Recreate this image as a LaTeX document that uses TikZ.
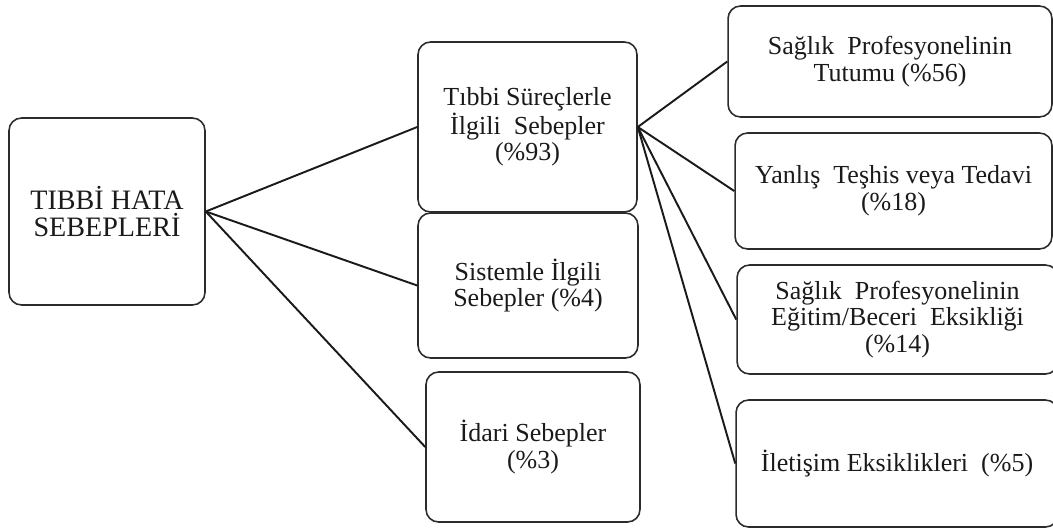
\documentclass[tikz,border=0pt]{standalone}
\usepackage{fontspec}
\setmainfont{Liberation Serif}
\usepackage{xcolor}
\usepackage{tikz}
\definecolor{ink}{HTML}{1A1A1A}
\definecolor{edge}{HTML}{2B2B2B}
\tikzset{
  causebox/.style={draw=edge,fill=white,rounded corners=0.25cm,
                   line width=0.9pt,align=center,inner sep=2pt,
                   font=\fontsize{14.8}{15.2}\selectfont,text=ink},
  link/.style={draw=ink,line width=1.1pt},
}

\begin{document}
\begin{tikzpicture}[x=0.02cm,y=-0.02cm]
  \useasboundingbox (0,0) rectangle (1053,528);
  % Root
  \node[causebox,minimum width=3.92cm,minimum height=3.74cm,
        font=\fontsize{16}{15.2}\selectfont] (root)
    at (107,211.5) {TIBBİ HATA\\SEBEPLERİ};
  % Middle level
  \node[causebox,minimum width=4.38cm,minimum height=3.4cm] (tibbi)
    at (527.5,127) {Tıbbi Süreçlerle\\İlgili\ \ Sebepler\\(\%93)};
  \node[causebox,minimum width=4.4cm,minimum height=2.9cm] (sistem)
    at (528,285.5) {Sistemle İlgili\\Sebepler\ (\%4)};
  \node[causebox,minimum width=4.28cm,minimum height=3.0cm] (idari)
    at (533,447) {İdari Sebepler\\(\%3)};
  % Right level
  \node[causebox,minimum width=6.48cm,minimum height=2.22cm] (tutum)
    at (890,61.5) {Sağlık\ \ Profesyonelinin\\Tutumu (\%56)};
  \node[causebox,minimum width=6.34cm,minimum height=2.32cm] (teshis)
    at (893.5,191) {Yanlış\ \ Teşhis veya Tedavi\\(\%18)};
  \node[causebox,minimum width=6.42cm,minimum height=2.18cm] (egitim)
    at (897.5,319.5) {Sağlık\ \ Profesyonelinin\\Eğitim/Beceri\ \ Eksikliği\\(\%14)};
  \node[causebox,minimum width=6.44cm,minimum height=2.54cm] (iletisim)
    at (897,463.5) {İletişim\ Eksiklikleri\ \ (\%5)};
  % Links
  \foreach \m in {tibbi,sistem,idari}
    \draw[link] (root.east) -- (\m.west);
  \foreach \r in {tutum,teshis,egitim,iletisim}
    \draw[link] (tibbi.east) -- (\r.west);
\end{tikzpicture}
\end{document}
